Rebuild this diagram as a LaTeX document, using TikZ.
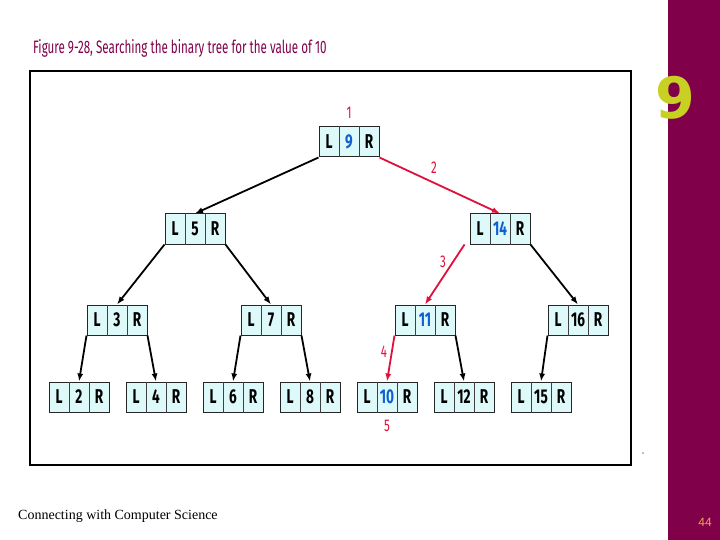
\documentclass[tikz,border=0pt]{standalone}
\usepackage{fontspec}
\usetikzlibrary{arrows.meta}
\newfontfamily\cellfont[FakeStretch=0.68]{Fira Sans}
\newfontfamily\titlefont[FakeStretch=0.645]{Fira Sans}
\newfontfamily\chapfont{DejaVu Sans}
\newfontfamily\footfont{Liberation Serif}
\newfontfamily\numfont{Liberation Sans}
\definecolor{slidepurple}{HTML}{80004A}
\definecolor{chapgreen}{HTML}{C8D024}
\definecolor{cellfill}{HTML}{DDF9F9}
\definecolor{pathred}{HTML}{E0103C}
\definecolor{valblue}{HTML}{1060D0}
\definecolor{pagenum}{HTML}{F0A850}
\tikzset{
  box/.style={draw=black!85, line width=1pt, fill=cellfill, minimum width=60pt, minimum height=30pt, inner sep=0pt},
  div/.style={draw=black!75, line width=0.8pt},
  lbl/.style={font=\cellfont\bfseries\fontsize{20}{20}\selectfont, inner sep=0pt},
  edge/.style={draw=black, line width=1.8pt, -{Latex[length=8pt,width=6pt]}},
  redge/.style={draw=pathred, line width=1.8pt, -{Latex[length=8pt,width=6pt]}},
  step num/.style={font=\cellfont\fontsize{17}{17}\selectfont, text=pathred, inner sep=0pt},
}
\newcommand\tnode[4]{%
  \node[box] (#1) at (#2,#3) {};
  \draw[div] ([xshift=-10pt]#1.north) -- ([xshift=-10pt]#1.south);
  \draw[div] ([xshift=10pt]#1.north) -- ([xshift=10pt]#1.south);
  \node[lbl] (#1-l) at ([xshift=-20pt]#1.center) {L};
  \node[lbl] (#1-v) at (#1.center) {#4};
  \node[lbl] (#1-r) at ([xshift=20pt]#1.center) {R};
}
\begin{document}
\begin{tikzpicture}[x=1pt,y=-1pt]
\useasboundingbox (0,0) rectangle (720,540);
\fill[white] (0,0) rectangle (720,540);
% purple side bar
\fill[slidepurple] (668,0) rectangle (720,540);
\node[font=\chapfont\bfseries\fontsize{57}{57}\selectfont, text=chapgreen, inner sep=0pt] (chap) at (675,98) {9};
% title
\node[anchor=west, font=\titlefont\fontsize{18}{18}\selectfont, text=slidepurple, inner sep=0pt] (title) at (33,48) {Figure 9-28, Searching the binary tree for the value of 10};
% frame
\draw[line width=2.5pt] (30,71) rectangle (631,465);
\fill[gray] (643,453) circle (0.8pt);
% nodes
\tnode{n9}{349}{142}{\textcolor{valblue}{9}}
\tnode{n5}{195}{229}{5}
\tnode{n14}{500}{229}{\textcolor{valblue}{14}}
\tnode{n3}{117}{320}{3}
\tnode{n7}{271}{320}{7}
\tnode{n11}{425}{320}{\textcolor{valblue}{11}}
\tnode{n16}{578}{320}{16}
\tnode{n2}{79}{397}{2}
\tnode{n4}{156}{397}{4}
\tnode{n6}{233}{397}{6}
\tnode{n8}{310}{397}{8}
\tnode{n10}{387}{397}{\textcolor{valblue}{10}}
\tnode{n12}{464}{397}{12}
\tnode{n15}{541}{397}{15}
% edges
\draw[edge] (n9.south west) -- (n5.north);
\draw[redge] (n9.south east) -- (n14.north);
\draw[edge] (n5.south west) -- (n3.north);
\draw[edge] (n5.south east) -- (n7.north);
\draw[redge] ([xshift=-5pt]n14.south west) -- (n11.north);
\draw[edge] (n14.south east) -- (n16.north);
\draw[edge] (n3.south west) -- (n2.north);
\draw[edge] (n3.south east) -- (n4.north);
\draw[edge] (n7.south west) -- (n6.north);
\draw[edge] (n7.south east) -- (n8.north);
\draw[redge] (n11.south west) -- (n10.north);
\draw[edge] (n11.south east) -- (n12.north);
\draw[edge] (n16.south west) -- (n15.north);
% step numbers
\node[step num] (s1) at (349,113) {1};
\node[step num] (s2) at (434,168) {2};
\node[step num] (s3) at (443,262) {3};
\node[step num] (s4) at (384,352) {4};
\node[step num] (s5) at (387,426) {5};
% footer
\node[anchor=west, font=\footfont\fontsize{14}{14}\selectfont, inner sep=0pt] (foot) at (18,516) {Connecting with Computer Science};
\node[font=\numfont\fontsize{12}{12}\selectfont, text=pagenum, inner sep=0pt] (page) at (705,522) {44};
\end{tikzpicture}
\end{document}
